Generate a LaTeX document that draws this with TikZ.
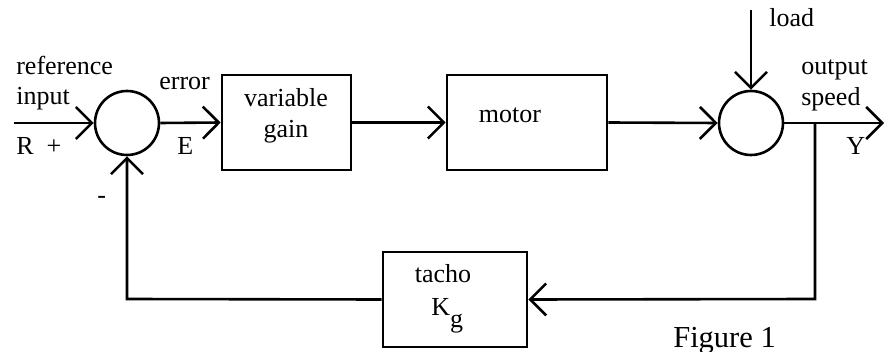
\documentclass[tikz,border=0pt]{standalone}
\usepackage{fontspec}
\setmainfont{Liberation Serif}
\usetikzlibrary{arrows.meta}
\begin{document}
\begin{tikzpicture}[x=1pt,y=-1pt,
  line width=2.6pt,
  flow/.style={-{Straight Barb[length=16pt,width=32pt,line width=2.6pt]}},
  sumjunction/.style={draw,circle,minimum size=64pt,inner sep=0pt},
  block/.style={draw,rectangle,inner sep=0pt},
  lbl/.style={font=\fontsize{26}{31}\selectfont,inner sep=0pt},
  lbltop/.style={lbl,anchor=base west,align=left}]
\useasboundingbox (0,0) rectangle (885,352);

% summing junctions
\node[sumjunction] (s1) at (127,123) {};
\node[sumjunction] (s2) at (751,123) {};

% forward path blocks
\node[block,minimum width=129pt,minimum height=95pt] (vg) at (286.5,122.5) {};
\node[block,minimum width=160pt,minimum height=95pt] (mot) at (527,122.5) {};
\node[block,minimum width=144pt,minimum height=95pt] (tach) at (455,299.5) {};

% block texts
\node[lbl,anchor=base] (tvg1) at (286,107) {variable};
\node[lbl,anchor=base] (tvg2) at (286,138) {gain};
\node[lbl,anchor=base] (tmot) at (510,123) {motor};
\node[lbl,anchor=base] (ttach) at (443,283) {tacho};
\node[lbl,anchor=base west] (tkg) at (430,315) {K\raisebox{-13pt}{g}};

% free ends of connectors
\coordinate (rin) at (14,123);
\coordinate (ldin) at (751,10);
\coordinate (yout) at (884,123);
\coordinate (tap) at (815,123);
\coordinate (tapdown) at (815,299);
\coordinate (fbcorner) at (127,299);

% forward path
\draw[flow] (rin) -- (s1.west);
\draw[flow] (s1.east) -- (vg.west);
\draw[flow] (vg.east) -- (mot.west);
\draw[flow] (mot.east) -- (s2.west);
\draw[flow] (ldin) -- (s2.north);
\draw[flow] (s2.east) -- (yout);

% feedback path
\draw[flow] (tap) -- (tapdown) -- (tach.east);
\draw[flow] (tach.west) -- (fbcorner) -- (s1.south);

% signal labels
\node[lbltop] (tref) at (15,75) {reference};
\node[lbltop] (tinp) at (15,105) {input};
\node[lbltop] (tr) at (15,155) {R\hspace{0.5em}+};
\node[lbltop] (terr) at (158,90) {error};
\node[lbltop] (te) at (176,155) {E};
\node[lbltop] (tminus) at (96,204) {-};
\node[lbltop] (tload) at (768,27) {load};
\node[lbltop] (tout) at (800,75) {output};
\node[lbltop] (tspd) at (800,106) {speed};
\node[lbltop] (ty) at (845,155) {Y};

% caption
\node[anchor=base west,inner sep=0pt,font=\fontsize{30.5}{36}\selectfont] (cap) at (672,347) {Figure 1};
\end{tikzpicture}
\end{document}
